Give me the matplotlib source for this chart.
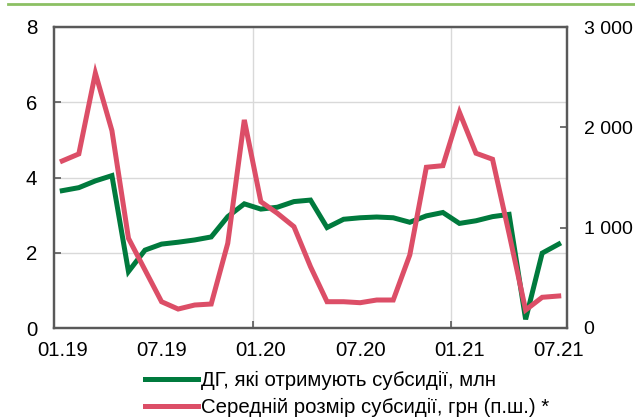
import matplotlib.pyplot as plt
from matplotlib.lines import Line2D

plt.rcParams['font.family'] = ['Liberation Sans', 'DejaVu Sans']

# monthly, 01.19 .. 07.21
tick_labels = ['01.19', '07.19', '01.20', '07.20', '01.21', '07.21']
households = [3.65, 3.73, 3.91, 4.05, 1.50, 2.07, 2.23, 2.28, 2.34, 2.42,
              2.96, 3.30, 3.16, 3.21, 3.36, 3.40, 2.67, 2.89, 2.93, 2.95,
              2.93, 2.81, 2.98, 3.07, 2.78, 2.85, 2.96, 3.02, 0.23, 1.99, 2.23]
avg_subsidy = [1665, 1735, 2540, 1967, 894, 578, 262, 189, 229, 239,
               844, 2074, 1259, 1143, 1010, 611, 262, 262, 252, 279,
               279, 728, 1602, 1618, 2150, 1742, 1682, 940, 179, 306, 319]
name_green = 'ДГ, які отримують субсидії, млн'
name_red = 'Середній розмір субсидії, грн (п.ш.) *'

green = '#007a3d'
red = '#dc4e67'
spine_c = '#595959'
fs = 14.7

fig = plt.figure(figsize=(6.35, 4.18), dpi=100)
ax = fig.add_axes([54/635, 1 - 328/418, (567-54)/635, (328-27)/418])
ax2 = ax.twinx()

x = list(range(len(households)))
ax.plot(x, households, color=green, lw=3.6, solid_joinstyle='miter', zorder=3)
ax2.plot(x, avg_subsidy, color=red, lw=3.6, solid_joinstyle='miter', zorder=3)

ax.set_xlim(-0.5, 30.5)
ax.set_ylim(0, 8)
ax2.set_ylim(0, 3000)

ax.set_xticks(range(0, 31, 6), tick_labels)
ax.set_xticks([11.5, 23.5], minor=True)
ax.set_yticks([0, 2, 4, 6, 8])
ax2.set_yticks([0, 1000, 2000, 3000], ['0', '1 000', '2 000', '3 000'])

ax.grid(True, axis='y', which='major', color='#d9d9d9', lw=1)
ax.grid(True, axis='x', which='minor', color='#d9d9d9', lw=1)
ax.set_axisbelow(True)

ax.tick_params(axis='x', which='major', length=0, pad=9.5, labelsize=fs)
ax.tick_params(axis='x', which='minor', direction='in', length=5, color=spine_c, width=1.2)
ax.tick_params(axis='y', direction='in', length=5, color=spine_c, width=1.2, pad=12, labelsize=fs)
ax2.tick_params(axis='y', direction='in', length=5, color=spine_c, width=1.2, pad=12, labelsize=14)

for a in (ax, ax2):
    for s in a.spines.values():
        s.set_color(spine_c)
        s.set_linewidth(1.6)

# green rule across the top
fig.add_artist(Line2D([8/635, 1], [1 - 4/418, 1 - 4/418], color='#8cc063', lw=2))

handles = [Line2D([], [], color=green, lw=3.6), Line2D([], [], color=red, lw=3.6)]
fig.legend(handles, [name_green, name_red], loc='upper left',
           bbox_to_anchor=(145/635, 1 - 371/418), frameon=False, fontsize=fs,
           handlelength=2.6, handletextpad=0.15, labelspacing=0.4,
           borderaxespad=0, borderpad=0)

fig.savefig('out.png', dpi=100)
